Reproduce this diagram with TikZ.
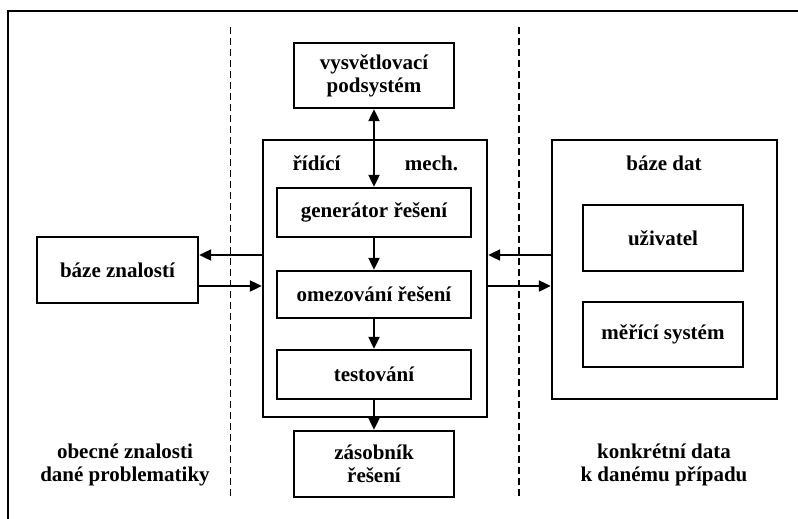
\documentclass[tikz,border=0pt]{standalone}
\usepackage{fontspec}
\setmainfont{Liberation Serif}
\usetikzlibrary{arrows.meta}
\begin{document}
\begin{tikzpicture}[x=1pt,y=-1pt,
  every node/.style={font=\fontsize{21}{23}\selectfont\bfseries},
  box/.style={draw,line width=2.4pt,align=center,inner sep=0pt},
  arr/.style={line width=2.2pt,-{Triangle[length=12pt,width=11pt]}},
  biarr/.style={line width=2.2pt,{Triangle[length=12pt,width=11pt]}-{Triangle[length=12pt,width=11pt]}},
  sep/.style={line width=1.8pt,dash pattern=on 7pt off 4pt},
  lbl/.style={align=center,inner sep=0pt}]
\useasboundingbox (0,0) rectangle (798,519);
% frame
\draw[line width=2.8pt] (8,519) |- (798,11);
% dashed separators
\draw[sep] (230.5,27) -- (230.5,497);
\draw[sep] (519,27) -- (519,497);
% central blocks
\node[box,minimum width=160pt,minimum height=65pt] (expl) at (374,75.5) {vysvětlovací\\podsystém};
\node[box,minimum width=224pt,minimum height=277pt] (ctrl) at (375,278.5) {};
\node[lbl] (ctrlA) at (316.5,163) {řídící};
\node[lbl] (ctrlB) at (431.5,163) {mech.};
\node[box,minimum width=194pt,minimum height=49pt] (gen) at (374,212.5) {generátor řešení};
\node[box,minimum width=194pt,minimum height=47pt] (omez) at (374,294.5) {omezování řešení};
\node[box,minimum width=194pt,minimum height=49pt] (test) at (374,374.5) {testování};
\node[box,minimum width=160pt,minimum height=66pt] (zas) at (374,464) {zásobník\\řešení};
% knowledge base
\node[box,minimum width=161pt,minimum height=66pt] (bz) at (117.5,270) {báze znalostí};
% data base
\node[box,minimum width=225pt,minimum height=259pt] (bd) at (664.5,269.5) {};
\node[lbl] (bdt) at (664,163) {báze dat};
\node[box,minimum width=160pt,minimum height=66pt] (uz) at (663,238) {uživatel};
\node[box,minimum width=160pt,minimum height=65pt] (mer) at (663,334.5) {měřící systém};
% captions
\node[lbl] (capL) at (125,465) {obecné znalosti\\dané problematiky};
\node[lbl] (capR) at (664,465) {konkrétní data\\k danému případu};
% connectors
\draw[biarr] (expl.south) -- (gen.north);
\draw[arr] (gen.south) -- (omez.north);
\draw[arr] (omez.south) -- (test.north);
\draw[arr] (test.south) -- (zas.north);
\coordinate (yA) at (0,255);
\coordinate (yB) at (0,286);
\draw[arr] (ctrl.west |- yA) -- (bz.east |- yA);
\draw[arr] (bz.east |- yB) -- (ctrl.west |- yB);
\draw[arr] (bd.west |- yA) -- (ctrl.east |- yA);
\draw[arr] (ctrl.east |- yB) -- (bd.west |- yB);
\end{tikzpicture}
\end{document}
